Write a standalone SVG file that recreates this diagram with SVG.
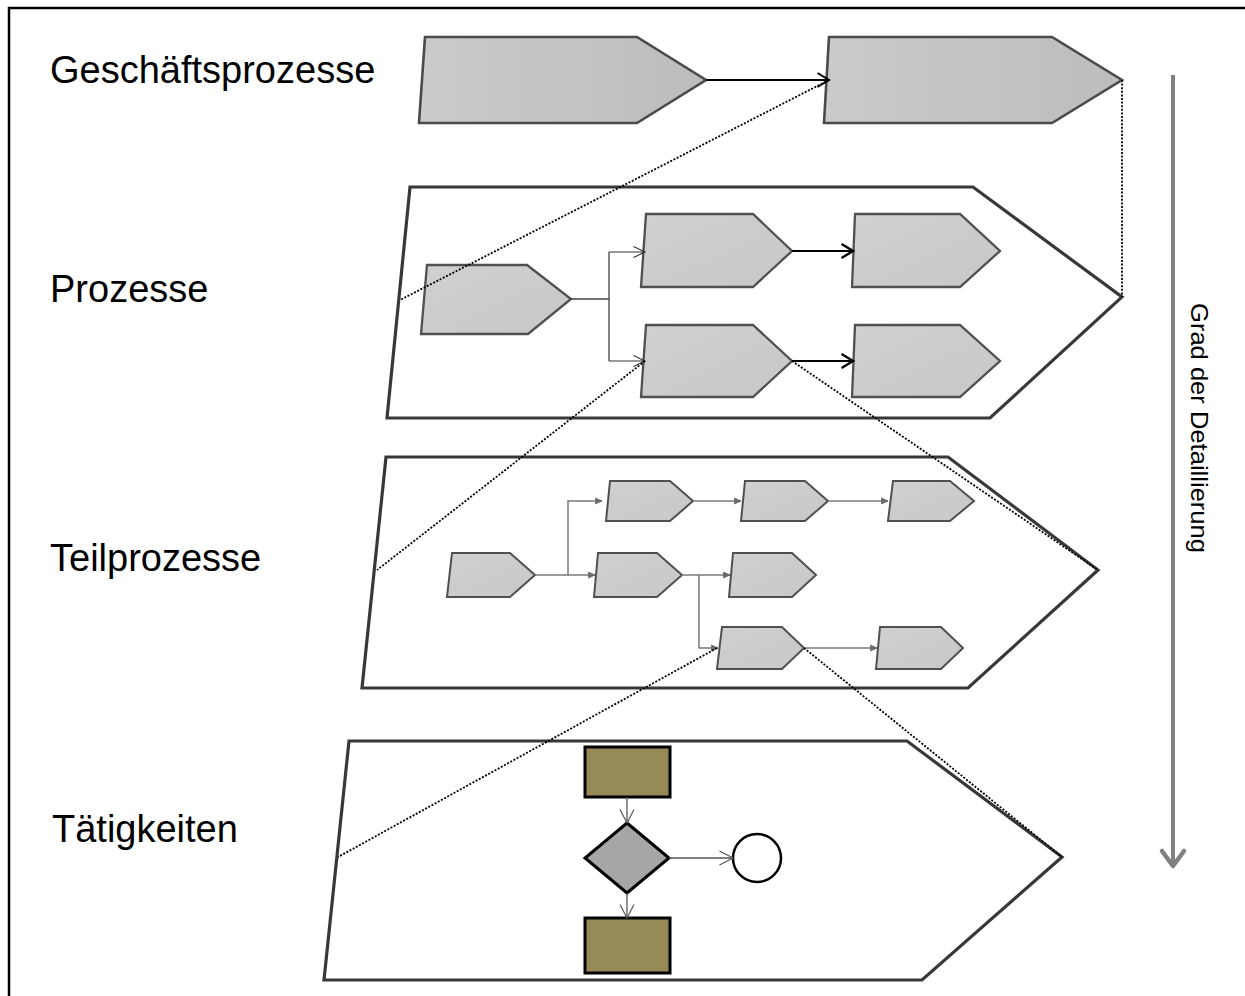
<svg xmlns="http://www.w3.org/2000/svg" width="1245" height="996" viewBox="0 0 1245 996">
  <style>
    .label { font-family: "Liberation Sans", Arial, sans-serif; font-size: 38px; fill: #000; }
    .axis-label { font-family: "Liberation Sans", Arial, sans-serif; font-size: 24px; fill: #000; }
    .frame { fill: #fff; stroke: #383838; stroke-width: 3.2; stroke-linejoin: miter; }
    .big { fill: url(#gradTop); stroke: #4a4a4a; stroke-width: 2.6; }
    .mid { fill: url(#gradMid); stroke: #505050; stroke-width: 2.3; }
    .small { fill: url(#gradMid); stroke: #505050; stroke-width: 2; }
    .task { fill: #968a56; stroke: #000; stroke-width: 3; }
    .gate { fill: #a6a6a6; stroke: #000; stroke-width: 3; }
    .event { fill: #fff; stroke: #000; stroke-width: 2.5; }
    .dotted { fill: none; stroke: #000; stroke-width: 1.8; stroke-dasharray: 2 1.6; }
    .flow-black { fill: none; stroke: #000; stroke-width: 2; marker-end: url(#arrowBlack); }
    .flow-thin { fill: none; stroke: #333; stroke-width: 1.2; marker-end: url(#arrowThin); }
    .flow-bold { fill: none; stroke: #000; stroke-width: 2.2; marker-end: url(#arrowBold); }
    .flow-gray { fill: none; stroke: #7a7a7a; stroke-width: 1.5; marker-end: url(#arrowGray); }
    .flow-gray-plain { fill: none; stroke: #444; stroke-width: 1.3; }
    .flow-task { fill: none; stroke: #555; stroke-width: 1.3; marker-end: url(#arrowTask); }
  </style>
  <defs>
    <linearGradient id="gradTop" x1="0" y1="0" x2="1" y2="0">
      <stop offset="0" stop-color="#cbcbcb"/>
      <stop offset="1" stop-color="#bcbcbc"/>
    </linearGradient>
    <linearGradient id="gradMid" x1="0" y1="0" x2="1" y2="1">
      <stop offset="0" stop-color="#d0d0d0"/>
      <stop offset="1" stop-color="#c8c8c8"/>
    </linearGradient>
    <marker id="arrowBlack" markerUnits="userSpaceOnUse" viewBox="0 0 14 16" markerWidth="14" markerHeight="16" refX="12.5" refY="8" orient="auto">
      <path d="M1,1 L12.5,8 L1,15" fill="none" stroke="#000" stroke-width="2"/>
    </marker>
    <marker id="arrowThin" markerUnits="userSpaceOnUse" viewBox="0 0 14 14" markerWidth="14" markerHeight="14" refX="12.5" refY="7" orient="auto">
      <path d="M1,1.5 L12.5,7 L1,12.5" fill="none" stroke="#333" stroke-width="1.1"/>
    </marker>
    <marker id="arrowBold" markerUnits="userSpaceOnUse" viewBox="0 0 14 16" markerWidth="14" markerHeight="16" refX="12.5" refY="8" orient="auto">
      <path d="M1,1 L12.5,8 L1,15" fill="none" stroke="#000" stroke-width="2.4"/>
    </marker>
    <marker id="arrowGray" markerUnits="userSpaceOnUse" viewBox="0 0 8 8" markerWidth="8" markerHeight="8" refX="7" refY="4" orient="auto">
      <path d="M0.5,1 L7,4 L0.5,7 Z" fill="#6a6a6a" stroke="#6a6a6a" stroke-width="0.8"/>
    </marker>
    <marker id="arrowTask" markerUnits="userSpaceOnUse" viewBox="0 0 16 16" markerWidth="16" markerHeight="16" refX="14.5" refY="8" orient="auto">
      <path d="M1,1 L14.5,8 L1,15" fill="none" stroke="#555" stroke-width="1.2"/>
    </marker>
  </defs>

  <!-- outer border (only top and left edges fall inside the canvas) -->
  <path d="M9,1000 L9,8 L1250,8" fill="none" stroke="#000" stroke-width="2.5"/>

  <!-- level labels -->
  <g id="labels">
    <text class="label" x="50" y="83">Geschäftsprozesse</text>
    <text class="label" x="50" y="302">Prozesse</text>
    <text class="label" x="50" y="571">Teilprozesse</text>
    <text class="label" x="52" y="842">Tätigkeiten</text>
  </g>

  <!-- level 1: business processes -->
  <g id="gp1"><polygon class="big" points="425,37 637,37 706,80 637,123 419,123"/></g>
  <g id="gp2"><polygon class="big" points="829,37 1052,37 1122,80 1052,123 824,123"/></g>

  <!-- level 2: processes -->
  <g id="frame-prozesse"><polygon class="frame" points="410,187 973,187 1122,297 990,418 387,418"/></g>
  <g id="p-a"><polygon class="mid" points="427,265 527,265 571,299 528,334 421,334"/></g>
  <g id="p-b"><polygon class="mid" points="646,214 753,214 792,251 753,287 641,287"/></g>
  <g id="p-c"><polygon class="mid" points="855,214 960,214 1000,251 960,287 852,287"/></g>
  <g id="p-d"><polygon class="mid" points="646,325 753,325 792,361 753,397 641,397"/></g>
  <g id="p-e"><polygon class="mid" points="855,325 960,325 1000,361 960,397 852,397"/></g>

  <!-- level 3: sub-processes -->
  <g id="frame-teilprozesse"><polygon class="frame" points="386,457 948,457 1098,570 968,688 362,688"/></g>
  <g id="t-1"><polygon class="small" points="610,481 670,481 693,501 670,521 606,521"/></g>
  <g id="t-2"><polygon class="small" points="745,481 805,481 828,501 805,521 741,521"/></g>
  <g id="t-3"><polygon class="small" points="893,481 950,481 974,501 950,521 888,521"/></g>
  <g id="t-4"><polygon class="small" points="452,553 510,553 535,575 510,597 447,597"/></g>
  <g id="t-5"><polygon class="small" points="598,553 657,553 682,575 657,597 594,597"/></g>
  <g id="t-6"><polygon class="small" points="733,553 792,553 816,575 792,597 729,597"/></g>
  <g id="t-7"><polygon class="small" points="722,627 782,627 804,648 782,669 717,669"/></g>
  <g id="t-8"><polygon class="small" points="880,627 941,627 963,648 941,669 876,669"/></g>

  <!-- level 4: activities -->
  <g id="frame-taetigkeiten"><polygon class="frame" points="349,741 907,741 1062,857 922,980 324,980"/></g>
  <g id="task-1"><rect class="task" x="585" y="747" width="85" height="50"/></g>
  <g id="gateway"><polygon class="gate" points="627,823 669,858 627,893 585,858"/></g>
  <g id="event"><ellipse class="event" cx="757" cy="858" rx="24" ry="24"/></g>
  <g id="task-2"><rect class="task" x="585" y="918" width="85" height="55"/></g>

  <!-- connectors -->
  <g id="connectors">
    <path class="flow-black" d="M706,80 L829,80"/>

    <path class="flow-gray-plain" d="M571,299 L609,299 M609,252 L609,361"/>
    <path class="flow-thin" d="M609,252 L645,252"/>
    <path class="flow-thin" d="M609,361 L645,361"/>
    <path class="flow-bold" d="M792,251 L853,251"/>
    <path class="flow-bold" d="M792,361 L853,361"/>

    <path class="flow-gray" d="M535,575 L568,575 L568,501 L602,501"/>
    <path class="flow-gray" d="M568,575 L595,575"/>
    <path class="flow-gray" d="M693,501 L741,501"/>
    <path class="flow-gray" d="M828,501 L888,501"/>
    <path class="flow-gray" d="M682,575 L730,575"/>
    <path class="flow-gray" d="M699,575 L699,648 L718,648"/>
    <path class="flow-gray" d="M804,648 L877,648"/>

    <path class="flow-task" d="M627,797 L627,823"/>
    <path class="flow-task" d="M627,893 L627,918"/>
    <path class="flow-task" d="M669,858 L733,858"/>

    <!-- zoom-in guide lines between levels -->
    <path class="dotted" d="M829,80 L400,300"/>
    <path class="dotted" d="M1122,80 L1122,297"/>
    <path class="dotted" d="M645,361 L377,570"/>
    <path class="dotted" d="M792,361 L1098,570"/>
    <path class="dotted" d="M717,648 L338,857"/>
    <path class="dotted" d="M804,648 L1062,857"/>
  </g>

  <!-- detail axis -->
  <g id="detail-axis">
    <path d="M1173,75 L1173,866" stroke="#808080" stroke-width="4" fill="none"/>
    <path d="M1162,851 L1173,866 L1184,851" stroke="#808080" stroke-width="4.5" fill="none" stroke-linecap="round" stroke-linejoin="round"/>
    <text class="axis-label" transform="translate(1191,303) rotate(90)" x="0" y="0" textLength="250" lengthAdjust="spacingAndGlyphs">Grad der Detaillierung</text>
  </g>
</svg>
